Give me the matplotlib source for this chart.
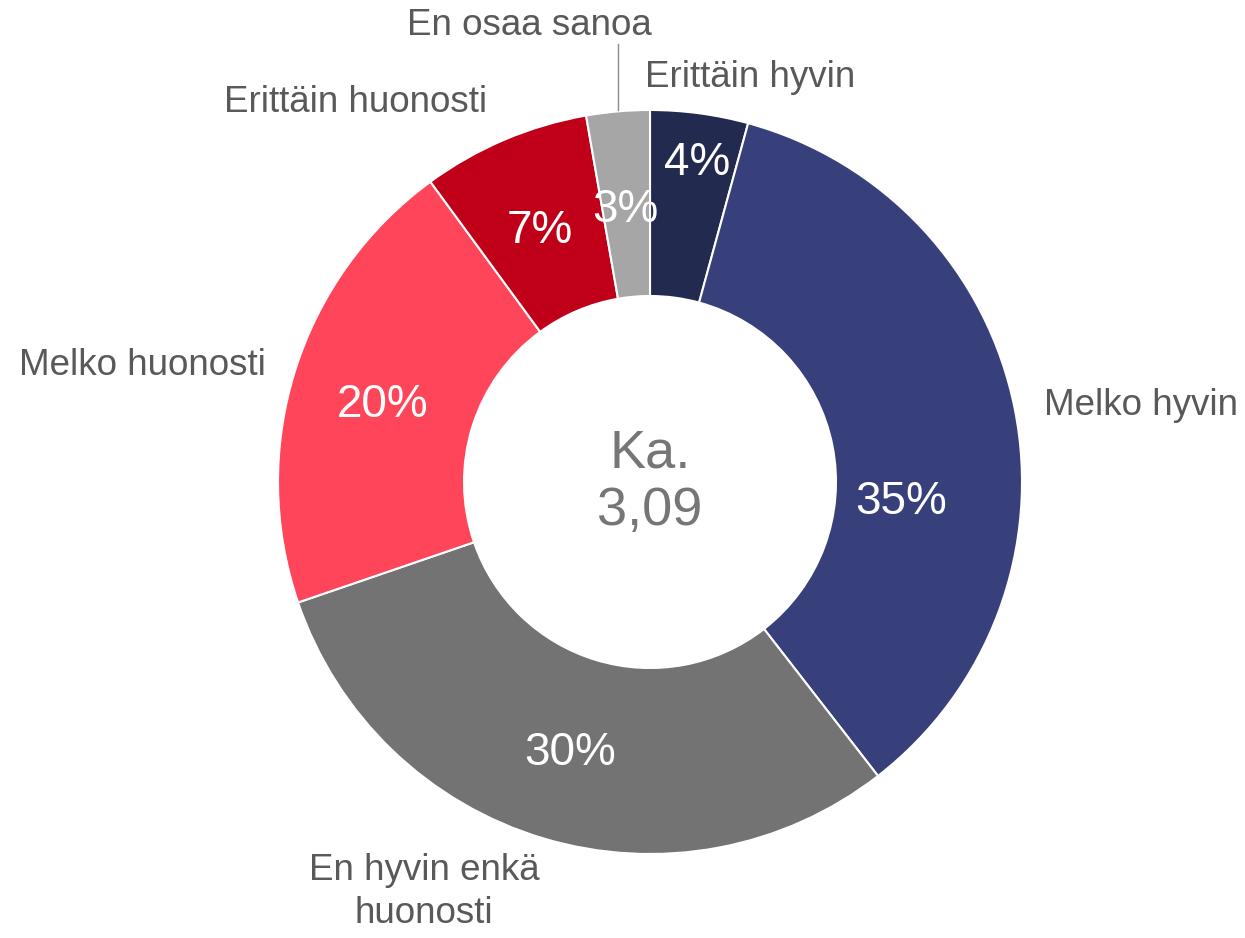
import numpy as np
import matplotlib
matplotlib.use('Agg')
import matplotlib.pyplot as plt

plt.rcParams['font.family'] = ['Liberation Sans', 'DejaVu Sans']

# data (clockwise from 12 o'clock)
categories = ['Erittäin hyvin', 'Melko hyvin', 'En hyvin enkä\nhuonosti',
              'Melko huonosti', 'Erittäin huonosti', 'En osaa sanoa']
values = [4.25, 35.25, 30.25, 20.2, 7.3, 2.75]
pct_labels = ['4%', '35%', '30%', '20%', '7%', '3%']
mean_label = 'Ka.\n3,09'

colors = ['#222a50', '#37407b', '#737373', '#ff4559', '#c00018', '#a6a6a6']

# label placement (pixel coords of the reference, baseline of last line)
cx, cy, R = 650, 482, 372
pct_pos = [(697, 175), (901, 514), (570, 765), (383, 417), (540, 243), (625, 222)]
cat_pos = [(645, 87, 'left'), (1044, 415, 'left'), (424, 923, 'center'),
           (266, 375, 'right'), (487, 112, 'right'), (529, 35, 'center')]


def to_data(px, py):
    return (px - cx) / R, (cy - py) / R


W, H = 1245, 938
fig = plt.figure(figsize=(W / 100, H / 100), dpi=100)
ax = fig.add_axes([(cx - R) / W, (H - cy - R) / H, 2 * R / W, 2 * R / H])

wedges, _ = ax.pie(values, colors=colors, startangle=90, counterclock=False,
                   radius=1, wedgeprops=dict(width=0.5, edgecolor='white',
                                             linewidth=1.5))
ax.set_xlim(-1, 1)
ax.set_ylim(-1, 1)
ax.set_aspect('equal')
ax.axis('off')

for lab, (px, py) in zip(pct_labels, pct_pos):
    x, y = to_data(px, py)
    ax.text(x, y, lab, color='white', fontsize=33, ha='center', va='baseline')

for lab, (px, py, ha) in zip(categories, cat_pos):
    x, y = to_data(px, py)
    ax.text(x, y, lab, color='#595959', fontsize=26.5, ha=ha, va='baseline',
            linespacing=1.3, multialignment='center')

# leader line for the small slice
x0, y0 = to_data(618, 110)
x1, y1 = to_data(618, 44)
ax.plot([x0, x1], [y0, y1], color='#8c8c8c', lw=1, clip_on=False)

x, y = to_data(650, 525)
ax.text(x, y, mean_label, color='#767676', fontsize=39, ha='center',
        va='baseline', linespacing=1.2)

fig.savefig('out.png', dpi=100)
